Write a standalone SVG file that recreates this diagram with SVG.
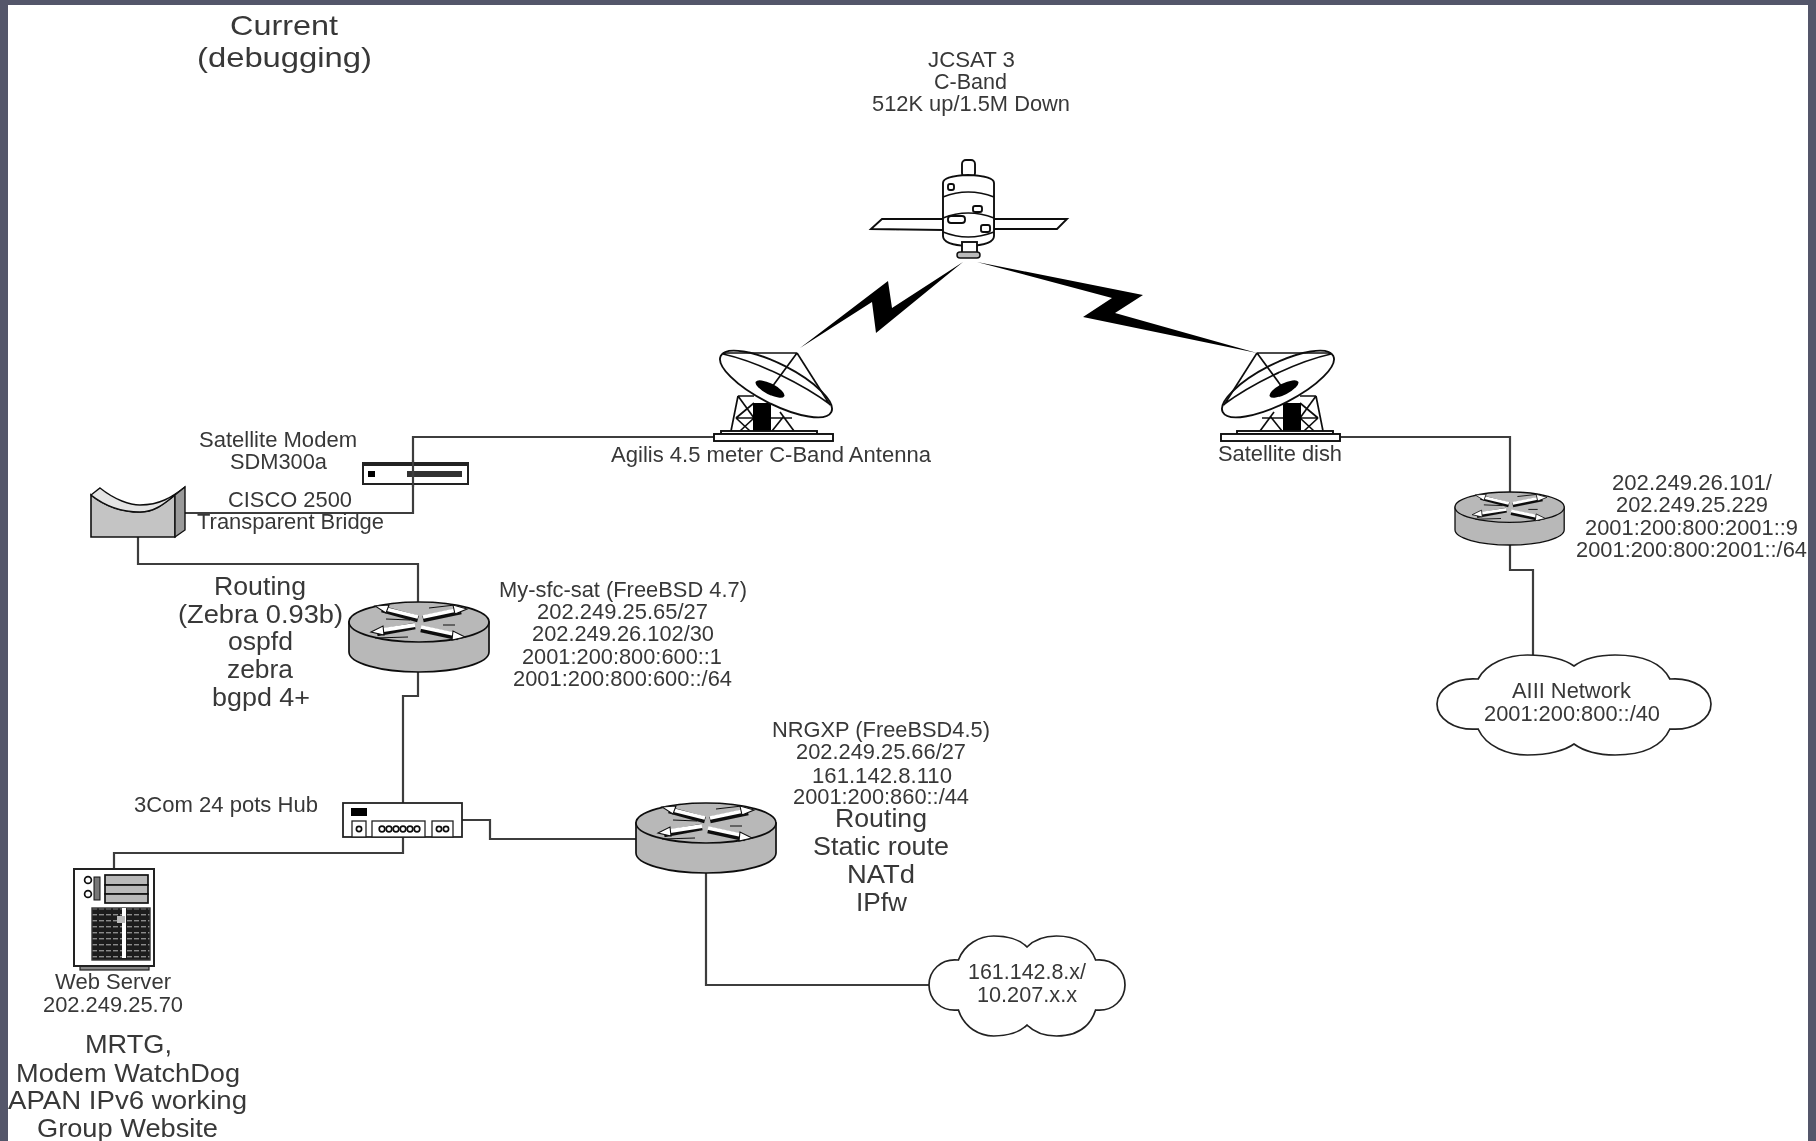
<svg xmlns="http://www.w3.org/2000/svg" xmlns:xlink="http://www.w3.org/1999/xlink" width="1816" height="1141" viewBox="0 0 1816 1141">
<style>
text{font-family:"Liberation Sans",Arial,sans-serif;fill:#383838}
.s{font-size:21.5px}.m{font-size:26px}.l{font-size:28.5px}
.w{fill:none;stroke:#3c3c3c;stroke-width:2.2}
.o{stroke:#111;stroke-width:1.9;fill:#fff}
.n{stroke:#111;stroke-width:1.7;fill:none}
.g{stroke:#111;stroke-width:1.7;fill:#b8b8b8}
.k{fill:#000}
.cl{fill:#fff;stroke:#222;stroke-width:1.7;vector-effect:non-scaling-stroke}
</style>
<defs>
<filter id="soft" x="0" y="0" width="100%" height="100%"><feGaussianBlur stdDeviation="0.6"/></filter>
<pattern id="grill" width="7" height="6" patternUnits="userSpaceOnUse"><rect width="7" height="6" fill="#1c1c1c"/><rect x="1" y="2" width="5" height="1.4" fill="#8a8a8a"/></pattern>
<g id="routerShape">
<path class="g" d="M0,20V50A70,20 0 0 0 140,50V20Z"/>
<ellipse class="g" cx="70" cy="20" rx="70" ry="20"/>
<g fill="none">
<path stroke="#111" stroke-width="6.6" d="M33,7L69,17M74,17L112,9M66,24L28,31M72,27L109,35"/>
<path stroke="#fff" stroke-width="3.8" d="M33,6L69,15M74,15L112,7M66,23L28,29M72,25L109,33"/>
<path stroke="#111" stroke-width="1.2" d="M37,17L61,18M26,36L59,35M94,23H106M80,6L106,3"/>
</g>
<path fill="#fff" stroke="#111" stroke-width="1.1" d="M26,4L40,3L37,11ZM118,7L104,3L106,12ZM22,30L34,24L35,33ZM116,35L104,29L103,38Z"/>
</g>
<path id="cloudShape" class="cl" d="M15,24C18,8 26,0 33,0C41,0 47,5 50,11C53,5 58,0 65,0C75,0 82,8 85,24C94,22 100,35 100,49C100,63 94,76 85,74C82,92 75,100 65,100C58,100 53,95 50,89C47,95 41,100 33,100C26,100 18,92 15,74C6,76 0,63 0,49C0,35 6,22 15,24Z"/>
<g id="dishShape">
<path class="n" d="M1260,431L1274,412M1282,431L1270,416M1300,403L1318,418M1316,396L1300,418M1316,396L1323,431M1300,396H1316M1300,418L1314,431M1318,418L1304,431M1300,418H1318M1262,418H1283"/>
<rect class="k" x="1283" y="403" width="18" height="29"/>
<rect class="o" x="1237" y="431" width="96" height="3"/>
<rect class="o" x="1221" y="434" width="119" height="7"/>
<ellipse class="o" cx="1278" cy="384" rx="62" ry="20" transform="rotate(-27 1278 384)"/>
<path class="n" d="M1223,405C1250,385 1295,362 1331,354M1257,353L1224,405M1257,353L1331,353M1257,353L1282,387"/>
<ellipse class="k" cx="1284" cy="389" rx="16" ry="5.5" transform="rotate(-27 1284 389)"/>
</g>
</defs>
<rect width="1816" height="1141" fill="#54566a"/>
<rect x="8" y="5" width="1800" height="1136" fill="#fff"/>
<g filter="url(#soft)">
<g id="connectors">
<path class="w" d="M714,437H413V513H185"/>
<path class="w" d="M138,537V564H418V602"/>
<path class="w" d="M418,671V696H403V803"/>
<path class="w" d="M462,820H490V839H636"/>
<path class="w" d="M403,837V853H114V869"/>
<path class="w" d="M706,873V985H929"/>
<path class="w" d="M1340,437H1510V492"/>
<path class="w" d="M1510,545V570H1533V655"/>
<polygon id="link-left" fill="#000" points="963,262 876,333 872,302 800,348 888,281 892,308"/>
<polygon id="link-right" fill="#000" points="977,262 1143,295 1115,313 1257,353 1083,317 1112,298"/>
</g>
<g id="title">
<text class="l" x="230" y="35" textLength="108" lengthAdjust="spacingAndGlyphs">Current</text>
<text class="l" x="197" y="67" textLength="175" lengthAdjust="spacingAndGlyphs">(debugging)</text>
</g>
<g id="satellite">
<rect class="o" x="962" y="160" width="13" height="17" rx="4"/>
<polygon class="o" points="871,229 882,219 943,219 943,230"/>
<polygon class="o" points="994,219 1067,219 1057,229 994,229"/>
<path class="o" d="M943,183Q943,176 968,175Q994,176 994,183V236Q994,245 968,246Q943,245 943,236Z"/>
<path class="n" d="M943,197Q968,187 994,197M943,218Q968,208 994,218M943,232Q968,242 994,232"/>
<rect class="o" x="948" y="184" width="6" height="6" rx="2"/>
<rect class="o" x="973" y="206" width="9" height="6" rx="2"/>
<rect class="o" x="948" y="216" width="17" height="7" rx="3"/>
<rect class="o" x="981" y="225" width="9" height="7" rx="2"/>
<rect class="o" x="962" y="242" width="15" height="11"/>
<rect x="957" y="252" width="23" height="6" rx="3" fill="#bbb" stroke="#111" stroke-width="1.5"/>
<text class="s" x="928" y="66.5" textLength="87" lengthAdjust="spacingAndGlyphs">JCSAT 3</text>
<text class="s" x="934" y="89" textLength="73" lengthAdjust="spacingAndGlyphs">C-Band</text>
<text class="s" x="872" y="111" textLength="198" lengthAdjust="spacingAndGlyphs">512K up/1.5M Down</text>
</g>
<g id="antenna-agilis">
<use href="#dishShape" transform="translate(2054,0) scale(-1,1)"/>
<text class="s" x="611" y="461.5" textLength="320" lengthAdjust="spacingAndGlyphs">Agilis 4.5 meter C-Band Antenna</text>
</g>
<g id="antenna-dish">
<use href="#dishShape"/>
<text class="s" x="1218" y="461" textLength="124" lengthAdjust="spacingAndGlyphs">Satellite dish</text>
</g>
<g id="modem">
<rect x="363" y="463" width="105" height="21" fill="#fff" stroke="#222" stroke-width="2"/>
<rect x="363" y="463" width="105" height="3" fill="#222"/>
<rect class="k" x="368" y="471" width="7" height="6"/>
<rect x="407" y="471" width="55" height="6" fill="#333"/>
<path class="w" d="M413,460V487"/>
<text class="s" x="199" y="447" textLength="158" lengthAdjust="spacingAndGlyphs">Satellite Modem</text>
<text class="s" x="230" y="469" textLength="97" lengthAdjust="spacingAndGlyphs">SDM300a</text>
</g>
<g id="bridge">
<path d="M91,495C110,510 130,512 140,512C155,512 165,503 175,495V537H91Z" fill="#c4c4c4" stroke="#111" stroke-width="1.6"/>
<path d="M91,495L100,488C115,500 130,505 140,505C160,505 172,497 185,487L175,495C165,503 155,512 140,512C130,512 110,510 91,495Z" fill="#e4e4e4" stroke="#111" stroke-width="1.4"/>
<path d="M175,495L185,487V530L175,537Z" fill="#9a9a9a" stroke="#111" stroke-width="1.4"/>
<text class="s" x="228" y="507" textLength="124" lengthAdjust="spacingAndGlyphs">CISCO 2500</text>
<text class="s" x="197" y="529" textLength="187" lengthAdjust="spacingAndGlyphs">Transparent Bridge</text>
</g>
<g id="router-my-sfc-sat">
<use href="#routerShape" transform="translate(349,602)"/>
<text class="m" x="214" y="595" textLength="92" lengthAdjust="spacingAndGlyphs">Routing</text>
<text class="m" x="178" y="623" textLength="165" lengthAdjust="spacingAndGlyphs">(Zebra 0.93b)</text>
<text class="m" x="228" y="650" textLength="65" lengthAdjust="spacingAndGlyphs">ospfd</text>
<text class="m" x="227" y="678" textLength="66" lengthAdjust="spacingAndGlyphs">zebra</text>
<text class="m" x="212" y="706" textLength="98" lengthAdjust="spacingAndGlyphs">bgpd 4+</text>
<text class="s" x="499" y="597" textLength="248" lengthAdjust="spacingAndGlyphs">My-sfc-sat (FreeBSD 4.7)</text>
<text class="s" x="537" y="619" textLength="171" lengthAdjust="spacingAndGlyphs">202.249.25.65/27</text>
<text class="s" x="532" y="641" textLength="182" lengthAdjust="spacingAndGlyphs">202.249.26.102/30</text>
<text class="s" x="522" y="664" textLength="200" lengthAdjust="spacingAndGlyphs">2001:200:800:600::1</text>
<text class="s" x="513" y="686" textLength="219" lengthAdjust="spacingAndGlyphs">2001:200:800:600::/64</text>
</g>
<g id="hub">
<rect x="343" y="803" width="119" height="34" fill="#fff" stroke="#222" stroke-width="1.8"/>
<rect class="k" x="351" y="808" width="16" height="8"/>
<rect x="352" y="821" width="14" height="16" fill="#fff" stroke="#222" stroke-width="1.3"/>
<circle class="n" cx="359" cy="829" r="2.6"/>
<rect x="372" y="821" width="53" height="16" fill="#fff" stroke="#222" stroke-width="1.3"/>
<g class="n"><circle cx="382" cy="829" r="2.8"/><circle cx="389" cy="829" r="2.8"/><circle cx="396" cy="829" r="2.8"/><circle cx="403" cy="829" r="2.8"/><circle cx="410" cy="829" r="2.8"/><circle cx="417" cy="829" r="2.8"/></g>
<rect x="432" y="821" width="21" height="16" fill="#fff" stroke="#222" stroke-width="1.3"/>
<circle class="n" cx="439" cy="829" r="2.6"/><circle class="n" cx="446" cy="829" r="2.6"/>
<text class="s" x="134" y="812" textLength="184" lengthAdjust="spacingAndGlyphs">3Com 24 pots Hub</text>
</g>
<g id="web-server">
<rect x="80" y="965" width="69" height="5" fill="#888" stroke="#222" stroke-width="1.2"/>
<rect x="74" y="869" width="80" height="97" fill="#fff" stroke="#222" stroke-width="2"/>
<rect class="g" x="105" y="875" width="43" height="10"/>
<rect class="g" x="105" y="885" width="43" height="9"/>
<rect class="g" x="105" y="894" width="43" height="9"/>
<rect x="94" y="877" width="6" height="23" fill="#777" stroke="#111" stroke-width="1"/>
<circle class="n" cx="88" cy="880" r="3.4"/>
<circle class="n" cx="88" cy="894" r="3.4"/>
<rect x="92" y="908" width="58" height="52" fill="url(#grill)" stroke="#333" stroke-width="1.4"/>
<rect x="122" y="908" width="4" height="50" fill="#fff"/>
<rect x="117" y="916" width="8" height="7" fill="#bbb"/>
<text class="s" x="55" y="989" textLength="116" lengthAdjust="spacingAndGlyphs">Web Server</text>
<text class="s" x="43" y="1012" textLength="140" lengthAdjust="spacingAndGlyphs">202.249.25.70</text>
<text class="m" x="85" y="1053" textLength="87" lengthAdjust="spacingAndGlyphs">MRTG,</text>
<text class="m" x="16" y="1082" textLength="224" lengthAdjust="spacingAndGlyphs">Modem WatchDog</text>
<text class="m" x="8" y="1109" textLength="239" lengthAdjust="spacingAndGlyphs">APAN IPv6 working</text>
<text class="m" x="37" y="1137" textLength="181" lengthAdjust="spacingAndGlyphs">Group Website</text>
</g>
<g id="router-nrgxp">
<use href="#routerShape" transform="translate(636,803)"/>
<text class="s" x="772" y="737" textLength="218" lengthAdjust="spacingAndGlyphs">NRGXP (FreeBSD4.5)</text>
<text class="s" x="796" y="759" textLength="170" lengthAdjust="spacingAndGlyphs">202.249.25.66/27</text>
<text class="s" x="812" y="783" textLength="140" lengthAdjust="spacingAndGlyphs">161.142.8.110</text>
<text class="s" x="793" y="804" textLength="176" lengthAdjust="spacingAndGlyphs">2001:200:860::/44</text>
<text class="m" x="835" y="827" textLength="92" lengthAdjust="spacingAndGlyphs">Routing</text>
<text class="m" x="813" y="855" textLength="136" lengthAdjust="spacingAndGlyphs">Static route</text>
<text class="m" x="847" y="883" textLength="68" lengthAdjust="spacingAndGlyphs">NATd</text>
<text class="m" x="856" y="911" textLength="51" lengthAdjust="spacingAndGlyphs">IPfw</text>
</g>
<g id="cloud-local">
<use href="#cloudShape" transform="translate(929,936) scale(1.96,1)"/>
<text class="s" x="968" y="979" textLength="118" lengthAdjust="spacingAndGlyphs">161.142.8.x/</text>
<text class="s" x="977" y="1002" textLength="100" lengthAdjust="spacingAndGlyphs">10.207.x.x</text>
</g>
<g id="router-aiii">
<use href="#routerShape" transform="translate(1455,492) scale(0.78,0.757)"/>
<text class="s" x="1612" y="490" textLength="160" lengthAdjust="spacingAndGlyphs">202.249.26.101/</text>
<text class="s" x="1616" y="512" textLength="152" lengthAdjust="spacingAndGlyphs">202.249.25.229</text>
<text class="s" x="1585" y="535" textLength="213" lengthAdjust="spacingAndGlyphs">2001:200:800:2001::9</text>
<text class="s" x="1576" y="557" textLength="231" lengthAdjust="spacingAndGlyphs">2001:200:800:2001::/64</text>
</g>
<g id="cloud-aiii">
<use href="#cloudShape" transform="translate(1437,655) scale(2.74,1)"/>
<text class="s" x="1512" y="698" textLength="119" lengthAdjust="spacingAndGlyphs">AIII Network</text>
<text class="s" x="1484" y="721" textLength="176" lengthAdjust="spacingAndGlyphs">2001:200:800::/40</text>
</g>
</g>
</svg>
